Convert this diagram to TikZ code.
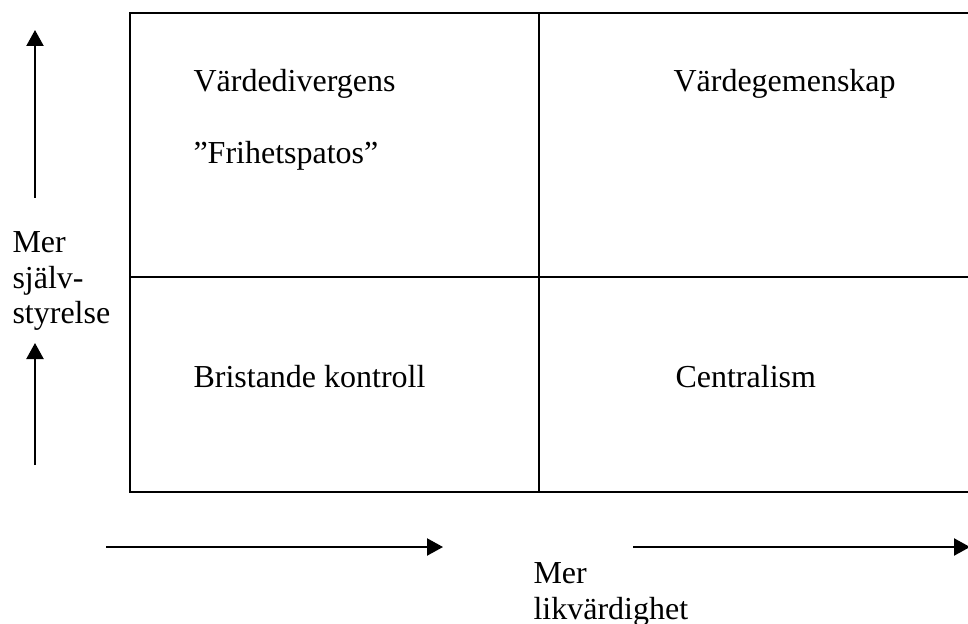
\documentclass[tikz,border=0pt]{standalone}
\usepackage{fontspec}
\setmainfont{Liberation Serif}
\usetikzlibrary{arrows.meta}
\tikzset{
    grid-line/.style = {draw=black, line width=0.75pt},
    axis-arrow/.style = {draw=black, line width=0.75pt, -{Triangle[length=6pt, width=6.4pt]}},
    cell-text/.style = {anchor=base west, inner sep=0pt, font=\fontsize{12}{13.4}\selectfont},
    axis-text/.style = {anchor=north west, inner sep=0pt, align=left, font=\fontsize{12}{13.4}\selectfont},
}

\begin{document}
\begin{tikzpicture}[x=0.375pt, y=-0.375pt]
\useasboundingbox (0,0) rectangle (968,623);
% the four fields
\draw[grid-line] (980,13) -- (130,13) -- (130,492) -- (980,492);
\draw[grid-line] (539,13) -- (539,492);
\draw[grid-line] (130,277) -- (980,277);
\node[cell-text] (divergens) at (193,92) {Värdedivergens};
\node[cell-text] (frihet) at (193,164) {”Frihetspatos”};
\node[cell-text] (gemenskap) at (673,92) {Värdegemenskap};
\node[cell-text] (brist) at (193,387) {Bristande kontroll};
\node[cell-text] (central) at (675,387) {Centralism};
% axes
\node[axis-text] (sjalv) at (12,231) {Mer\\själv-\\styrelse};
\node[axis-text] (likv) at (533,562) {Mer\\likvärdighet};
\coordinate (up-a-from) at (35,198);
\coordinate (up-a-to) at (35,30);
\coordinate (up-b-from) at (35,465);
\coordinate (up-b-to) at (35,343);
\coordinate (right-a-from) at (106,547);
\coordinate (right-a-to) at (443,547);
\coordinate (right-b-from) at (633,547);
\coordinate (right-b-to) at (970,547);
\draw[axis-arrow] (up-a-from) -- (up-a-to);
\draw[axis-arrow] (up-b-from) -- (up-b-to);
\draw[axis-arrow] (right-a-from) -- (right-a-to);
\draw[axis-arrow] (right-b-from) -- (right-b-to);
\end{tikzpicture}
\end{document}
